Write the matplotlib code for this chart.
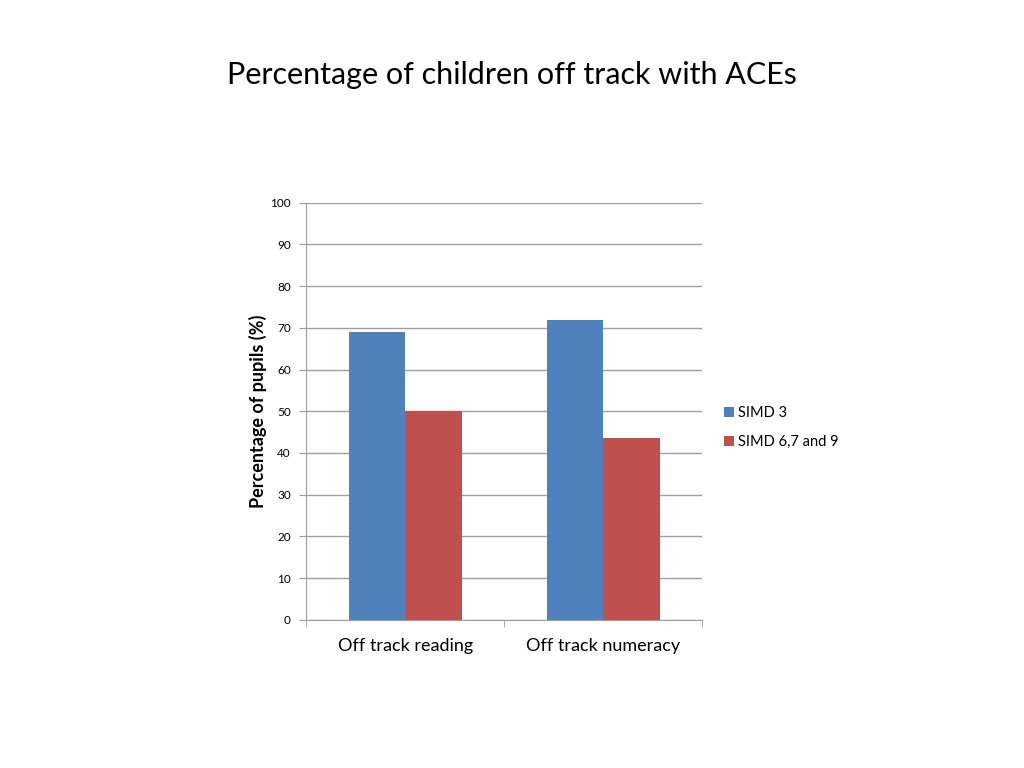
import matplotlib
matplotlib.use("Agg")
import matplotlib.pyplot as plt
import numpy as np

categories = ["Off track reading", "Off track numeracy"]
series_names = ["SIMD 3", "SIMD 6,7 and 9"]
simd3 = [69.1, 71.8]
simd679 = [50.0, 43.7]
yticks = [0, 10, 20, 30, 40, 50, 60, 70, 80, 90, 100]

plt.rcParams['font.family'] = ['Lato', 'DejaVu Sans']

fig = plt.figure(figsize=(10.24, 7.68), dpi=100)
ax = fig.add_axes([0.299, 0.193, 0.387, 0.543])

x = np.arange(len(categories))
w = 0.285
ax.bar(x - w/2, simd3, w, color="#4F81BD", label=series_names[0], zorder=3)
ax.bar(x + w/2, simd679, w, color="#C0504D", label=series_names[1], zorder=3)

ax.set_xlim(-0.5, len(categories) - 0.5)
ax.set_ylim(0, 100)
ax.set_yticks(yticks)
ax.set_yticklabels([str(v) for v in yticks], fontsize=8.5)
ax.yaxis.grid(True, color="#A0A0A0", linewidth=1, zorder=0)
ax.set_axisbelow(True)

ax.set_xticks(x)
ax.set_xticklabels(categories, fontsize=13)
ax.tick_params(axis='x', length=0, pad=13)
ax.set_xticks(np.arange(-0.5, len(categories), 1.0), minor=True)
ax.tick_params(axis='x', which='minor', length=5, color="#A0A0A0")
ax.tick_params(axis='y', length=5, color="#A0A0A0", pad=6)

for s in ["top", "right"]:
    ax.spines[s].set_visible(False)
for s in ["left", "bottom"]:
    ax.spines[s].set_color("#A0A0A0")

ax.set_ylabel("Percentage of pupils (%)", fontsize=13, fontweight="bold", labelpad=2)

fig.text(0.5, 0.902, "Percentage of children off track with ACEs", ha="center", va="center", fontsize=22)

ax.legend(loc="center left", bbox_to_anchor=(1.02, 0.461), frameon=False, fontsize=10.5,
          handlelength=0.7, handleheight=0.7, handletextpad=0.3, labelspacing=1.0)

fig.savefig("out.png", dpi=100)
